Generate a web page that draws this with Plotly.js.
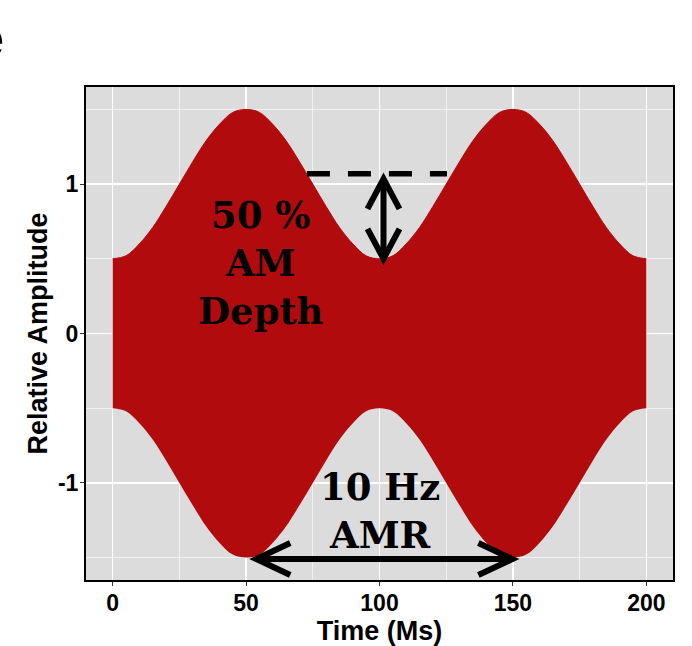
<!DOCTYPE html>
<html>
<head>
<meta charset="utf-8">
<script src="https://cdn.plot.ly/plotly-3.0.1.min.js"></script>
<style>
  html, body { margin: 0; padding: 0; background: #ffffff; }
  #chart { width: 692px; height: 646px; }
</style>
</head>
<body>
<div id="chart"></div>
<script>
// ---- data ----
const timeMs = [0,5,10,15,20,25,30,35,40,45,50,55,60,65,70,75,80,85,90,95,100,
                105,110,115,120,125,130,135,140,145,150,155,160,165,170,175,180,185,190,195,200];
const upperEnvelope = [0.50,0.52,0.60,0.71,0.85,1.00,1.15,1.29,1.40,1.48,1.50,1.48,1.40,1.29,1.15,1.00,0.85,0.71,0.60,0.52,0.50,
                       0.52,0.60,0.71,0.85,1.00,1.15,1.29,1.40,1.48,1.50,1.48,1.40,1.29,1.15,1.00,0.85,0.71,0.60,0.52,0.50];
const lowerEnvelope = [-0.50,-0.52,-0.60,-0.71,-0.85,-1.00,-1.15,-1.29,-1.40,-1.48,-1.50,-1.48,-1.40,-1.29,-1.15,-1.00,-0.85,-0.71,-0.60,-0.52,-0.50,
                       -0.52,-0.60,-0.71,-0.85,-1.00,-1.15,-1.29,-1.40,-1.48,-1.50,-1.48,-1.40,-1.29,-1.15,-1.00,-0.85,-0.71,-0.60,-0.52,-0.50];
const xTickVals = [0,50,100,150,200];
const xTickText = ['0','50','100','150','200'];
const yTickVals = [-1,0,1];
const yTickText = ['-1','0','1'];
const depthLabel = '50 %<br>AM<br>Depth';
const rateLabel = '10 Hz<br>AMR';
const panelLetter = 'e';

// ---- annotation geometry (data units) ----
const depthLineY = 1.07, depthLineX0 = 72.8, depthLineX1 = 125.3;
const vArrowX = 101.5, vArrowTop = 1.035, vArrowBottom = 0.50;
const hArrowY = -1.51, hArrowLeft = 53.8, hArrowRight = 149.8;

const RED = '#b20b0e';
const sans = 'Liberation Sans, Arial, sans-serif';
const serif = 'DejaVu Serif, serif';

const traces = [
  { x: timeMs, y: lowerEnvelope, type: 'scatter', mode: 'lines',
    line: { width: 0, color: RED, shape: 'spline', smoothing: 1 }, hoverinfo: 'skip', showlegend: false },
  { x: timeMs, y: upperEnvelope, type: 'scatter', mode: 'lines',
    line: { width: 1, color: RED, shape: 'spline', smoothing: 1 }, fill: 'tonexty', fillcolor: RED,
    hoverinfo: 'skip', showlegend: false }
];

const arrowLine = { color: '#000000', width: 6 };
const shapes = [
  { type: 'line', xref: 'paper', yref: 'y', x0: 0, x1: 1, y0: 0, y1: 0,
    line: { color: '#444444', width: 1, dash: '4px,3px' }, layer: 'between' },
  { type: 'line', xref: 'x', yref: 'y', x0: depthLineX0, x1: depthLineX1, y0: depthLineY, y1: depthLineY,
    line: { color: '#000000', width: 5.5, dash: '23px,18px' } },
  { type: 'line', xref: 'x', yref: 'y', x0: vArrowX, x1: vArrowX, y0: vArrowBottom, y1: vArrowTop, line: arrowLine },
  { type: 'path', xref: 'x', yref: 'y', xsizemode: 'pixel', ysizemode: 'pixel',
    xanchor: vArrowX, yanchor: vArrowTop, path: 'M -16,-30 L 0,0 L 16,-30', line: arrowLine },
  { type: 'path', xref: 'x', yref: 'y', xsizemode: 'pixel', ysizemode: 'pixel',
    xanchor: vArrowX, yanchor: vArrowBottom, path: 'M -16,30 L 0,0 L 16,30', line: arrowLine },
  { type: 'line', xref: 'x', yref: 'y', x0: hArrowLeft, x1: hArrowRight, y0: hArrowY, y1: hArrowY, line: arrowLine },
  { type: 'path', xref: 'x', yref: 'y', xsizemode: 'pixel', ysizemode: 'pixel',
    xanchor: hArrowLeft, yanchor: hArrowY, path: 'M 34,16 L 0,0 L 34,-16', line: arrowLine },
  { type: 'path', xref: 'x', yref: 'y', xsizemode: 'pixel', ysizemode: 'pixel',
    xanchor: hArrowRight, yanchor: hArrowY, path: 'M -34,16 L 0,0 L -34,-16', line: arrowLine }
];

const annotations = [
  { x: 55.4, y: 0.475, xref: 'x', yref: 'y', text: depthLabel, showarrow: false,
    font: { family: serif, size: 37, color: '#000000', weight: 'bold' } },
  { x: 100, y: -1.19, xref: 'x', yref: 'y', text: rateLabel, showarrow: false,
    font: { family: serif, size: 37, color: '#000000', weight: 'bold' } },
  { x: -0.1363, y: 1.10, xref: 'paper', yref: 'paper', xanchor: 'right', yanchor: 'middle',
    text: panelLetter, showarrow: false,
    font: { family: sans, size: 56, color: '#000000', weight: 'bold' } }
];

const axisCommon = {
  showgrid: true, gridcolor: '#ffffff', gridwidth: 1.3,
  ticks: 'outside', ticklen: 4, tickwidth: 1, tickcolor: '#333333',
  tickfont: { family: sans, size: 23, color: '#000000', weight: 'bold' },
  ticklabelstandoff: -3,
  showline: true, mirror: true, linecolor: '#000000', linewidth: 2,
  zeroline: false, fixedrange: true
};

const layout = {
  width: 692, height: 646,
  margin: { l: 86, r: 19, t: 87, b: 66 },
  paper_bgcolor: '#ffffff',
  plot_bgcolor: '#dcdcdc',
  showlegend: false,
  xaxis: Object.assign({}, axisCommon, {
    range: [-10, 210], tickmode: 'array', tickvals: xTickVals, ticktext: xTickText,
    minor: { tickvals: [25, 75, 125, 175], showgrid: true, gridcolor: '#ffffff', gridwidth: 0.6, ticklen: 0 },
    title: { text: 'Time (Ms)', standoff: 1, font: { family: sans, size: 27, color: '#000000', weight: 'bold' } }
  }),
  yaxis: Object.assign({}, axisCommon, {
    range: [-1.65, 1.65], tickmode: 'array', tickvals: yTickVals, ticktext: yTickText,
    minor: { tickvals: [-1.5, -0.5, 0.5, 1.5], showgrid: true, gridcolor: '#ffffff', gridwidth: 0.6, ticklen: 0 },
    title: { text: 'Relative Amplitude', standoff: 2, font: { family: sans, size: 27, color: '#000000', weight: 'bold' } }
  }),
  shapes: shapes,
  annotations: annotations
};

Plotly.newPlot('chart', traces, layout, { staticPlot: true, displayModeBar: false });
</script>
</body>
</html>
